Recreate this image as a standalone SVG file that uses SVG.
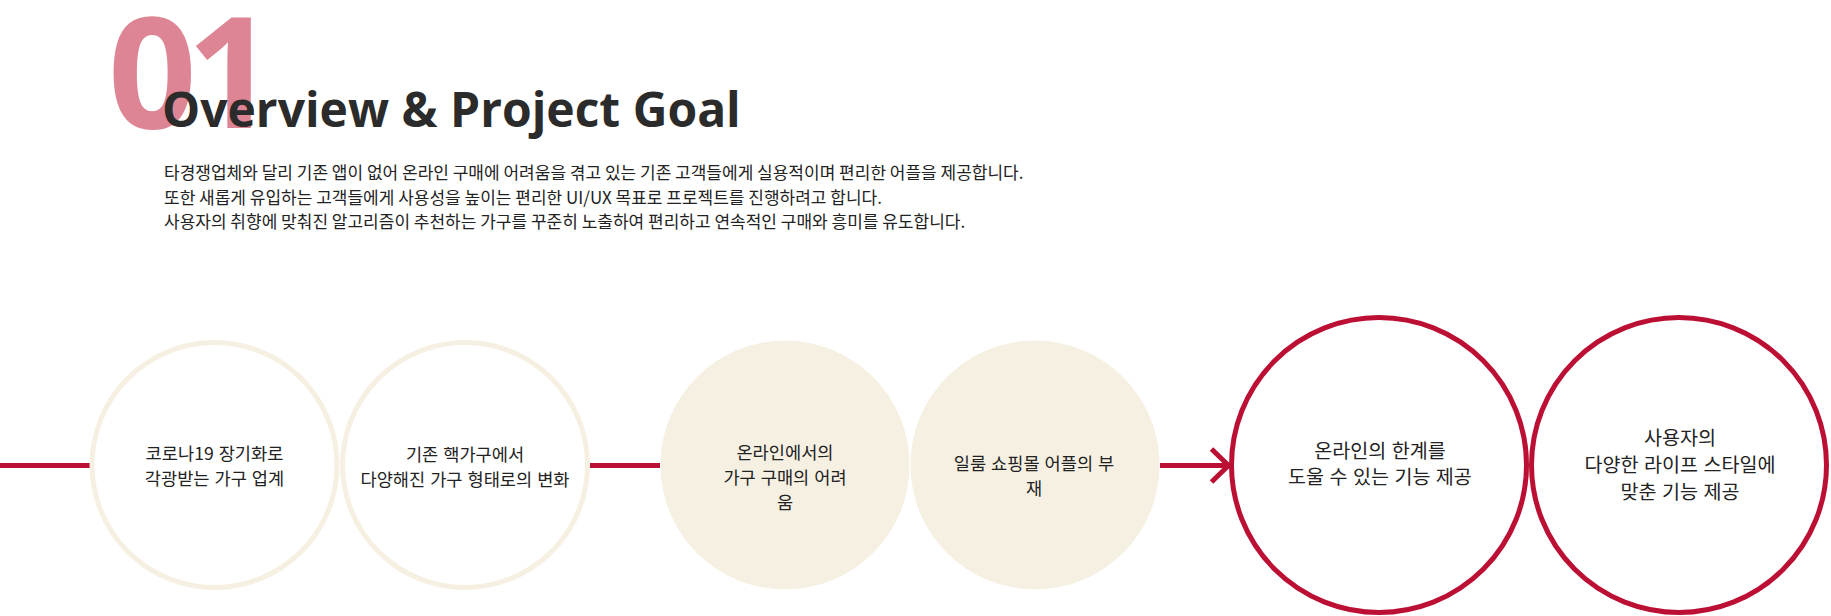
<svg xmlns="http://www.w3.org/2000/svg" width="1831" height="616" viewBox="0 0 1831 616">
<style>
.num{font-family:"Open Sans","Noto Sans",sans-serif;font-weight:700;font-size:155px;fill:#dd8595;letter-spacing:-10px}
.title{font-family:"Open Sans","Noto Sans",sans-serif;font-weight:700;font-size:48px;fill:#2b2b2b}
.para{font-family:"Noto Sans CJK KR","Noto Sans",sans-serif;font-size:17px;fill:#222}
.lbl{font-family:"Noto Sans CJK KR","Noto Sans",sans-serif;font-size:17.6px;fill:#222;text-anchor:middle;word-spacing:1px}
.lbl2{font-family:"Noto Sans CJK KR","Noto Sans",sans-serif;font-size:19.6px;fill:#222;text-anchor:middle;word-spacing:1px}
.ring{fill:#fff;stroke:#f6f0e2;stroke-width:5}
.disc{fill:#f6f0e3}
.goal{fill:#fff;stroke:#bb0f33;stroke-width:5}
.conn{stroke:#bb0f33;stroke-width:5;fill:none}
</style>
<rect width="1831" height="616" fill="#fff"/>
<g id="header">
<text class="num" x="108" y="128">01</text>
<text class="title" x="162" y="127">Overview &amp; Project Goal</text>
<text class="para" x="164" y="179">타경쟁업체와 달리 기존 앱이 없어 온라인 구매에 어려움을 겪고 있는 기존 고객들에게 실용적이며 편리한 어플을 제공합니다.</text>
<text class="para" x="164" y="204">또한 새롭게 유입하는 고객들에게 사용성을 높이는 편리한 UI/UX 목표로 프로젝트를 진행하려고 합니다.</text>
<text class="para" x="164" y="228">사용자의 취향에 맞춰진 알고리즘이 추천하는 가구를 꾸준히 노출하여 편리하고 연속적인 구매와 흥미를 유도합니다.</text>
</g>
<g id="connectors">
<line class="conn" x1="0" y1="465.5" x2="90" y2="465.5"/>
<line class="conn" x1="590" y1="465.5" x2="660" y2="465.5"/>
<line class="conn" x1="1160" y1="465.5" x2="1227" y2="465.5"/>
<polyline class="conn" points="1211.5,449 1228.5,465.5 1211.5,482"/>
</g>
<g id="node1">
<circle class="ring" cx="214.5" cy="465" r="122.5"/>
<text class="lbl" x="214.5" y="459.5">코로나19 장기화로</text>
<text class="lbl" x="214.5" y="484.5">각광받는 가구 업계</text>
</g>
<g id="node2">
<circle class="ring" cx="465" cy="465" r="122.5"/>
<text class="lbl" x="465" y="460.5">기존 핵가구에서</text>
<text class="lbl" x="465" y="485.5">다양해진 가구 형태로의 변화</text>
</g>
<g id="node3">
<circle class="disc" cx="785" cy="465" r="124.5"/>
<text class="lbl" x="785" y="458.5">온라인에서의</text>
<text class="lbl" x="785" y="483.5">가구 구매의 어려</text>
<text class="lbl" x="785" y="508.5">움</text>
</g>
<g id="node4">
<circle class="disc" cx="1035" cy="465" r="124.5"/>
<text class="lbl" x="1034" y="469.5">일룸 쇼핑몰 어플의 부</text>
<text class="lbl" x="1034" y="494.5">재</text>
</g>
<g id="node5">
<circle class="goal" cx="1379" cy="465" r="147.5"/>
<text class="lbl2" x="1380" y="457.5">온라인의 한계를</text>
<text class="lbl2" x="1380" y="484">도울 수 있는 기능 제공</text>
</g>
<g id="node6">
<circle class="goal" cx="1679" cy="465" r="147.5"/>
<text class="lbl2" x="1680" y="444.5">사용자의</text>
<text class="lbl2" x="1680" y="471.5">다양한 라이프 스타일에</text>
<text class="lbl2" x="1680" y="498.5">맞춘 기능 제공</text>
</g>
</svg>
